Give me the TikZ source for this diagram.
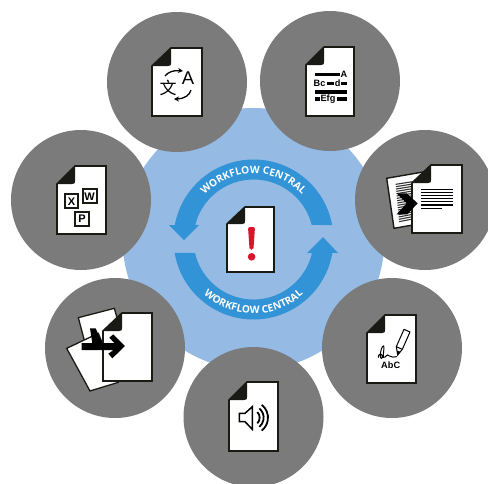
\documentclass[tikz,border=0pt]{standalone}
\usepackage{fontspec}
\setmainfont{Liberation Sans}
\newfontfamily\wfont{Open Sans}
\newfontfamily\cjkfont{Noto Sans CJK SC}
\usetikzlibrary{arrows.meta,decorations.text}
\definecolor{hubgray}{HTML}{7B7B7B}
\definecolor{paleblue}{HTML}{95BBE4}
\definecolor{ringblue}{HTML}{3293D6}
\definecolor{ink}{HTML}{1A1A14}
\definecolor{alertred}{HTML}{D9152C}
\tikzset{
  hub/.style={circle,fill=hubgray,minimum size=140pt,inner sep=0pt},
  paper/.style={fill=white,draw=ink,line width=1.7pt,line join=miter},
  inkbar/.style={fill=black},
  iconlabel/.style={inner sep=0pt,font=\bfseries\fontsize{9.2}{10}\selectfont},
  boxlabel/.style={inner sep=0pt,font=\bfseries\fontsize{11}{12}\selectfont},
  smallbox/.style={fill=white,draw=ink,line width=1.8pt}
}
\newcommand{\docpage}[6]{%
  \filldraw[paper] (#1,#6) -- (#5,#2) -- (#3,#2) -- (#3,#4) -- (#1,#4) -- cycle;
  \fill[ink] (#1,#6) -- (#5,#2) -- (#5,#6-3) .. controls (#5,#6-0.5) .. (#5-3,#6) -- cycle;
}
\newcommand{\ringfont}{\wfont\bfseries\fontsize{10.2}{12}\selectfont\color{white}}
\begin{document}
\begin{tikzpicture}[x=1pt,y=-1pt]
\useasboundingbox (0,0) rectangle (488,483);
\clip (0,0) rectangle (488,483);
\fill[white] (0,0) rectangle (488,483);
\node[circle,fill=paleblue,minimum size=262pt,inner sep=0pt] (central) at (253.5,239) {};
\node[hub] (translate) at (177,82) {};
\node[hub] (format) at (330,81) {};
\node[hub] (convert) at (425,200) {};
\node[hub] (sign) at (392,348) {};
\node[hub] (audio) at (253.5,417) {};
\node[hub] (merge) at (115,348) {};
\node[hub] (office) at (81,200) {};

% ring arrows
\begin{scope}[shift={(253.5,239.5)}]
\fill[ringblue] (-10.44:80) arc[start angle=-10.44,end angle=-169.56,radius=80]
  -- (-84.5,-14.5) -- (-69.5,0.5) -- (-54.5,-14.5) -- (-166:60)
  arc[start angle=-166,end angle=-14,radius=60] -- cycle;
\fill[ringblue] (170.3:80) arc[start angle=170.3,end angle=9.7,radius=80]
  -- (84.5,13.5) -- (69.5,-2.5) -- (53.5,13.5) -- (13:60)
  arc[start angle=13,end angle=167,radius=60] -- cycle;
\path[decorate,decoration={text along path,text align=center,
  text={|\ringfont|WORKFLOW CENTRAL}}]
  (-150:66) arc[start angle=-150,end angle=-30,radius=66];
\path[decorate,decoration={text along path,text align=center,
  text={|\ringfont|WORKFLOW CENTRAL}}]
  (150:74) arc[start angle=150,end angle=30,radius=74];
\end{scope}

% central document
\docpage{227}{207}{274}{272}{245}{224}
\fill[alertred,rounded corners=2pt] (248,227) -- (255,227) -- (253.4,250) -- (249.6,250) -- cycle;
\fill[alertred] (251.6,256.8) circle (3.8);

% translate
\docpage{152}{48}{202}{116}{171}{66}
\node[inner sep=0pt,font=\fontsize{18.5}{20}\selectfont] (letterA) at (188,78) {A};
\node[inner sep=0pt,font=\cjkfont\fontsize{17}{19}\selectfont] (letterwen) at (168,88) {文};
\draw[line width=1.3pt,-{Stealth[length=5pt,width=5pt]}] (165,76) .. controls (168,72) and (174,70) .. (183,71);
\draw[line width=1.3pt,-{Stealth[length=5pt,width=5pt]}] (191,90) .. controls (190,95) and (184,99) .. (174,99);

% format
\docpage{306}{47}{354}{116}{324}{65}
\fill[inkbar] (315,72.7) rectangle (340,76);
\fill[inkbar] (327.3,82) rectangle (334,85);
\fill[inkbar] (341.3,82) rectangle (347,85);
\fill[inkbar] (315,90) rectangle (347,93.7);
\fill[inkbar] (315,97.3) rectangle (320,100.7);
\fill[inkbar] (336.7,97.3) rectangle (347,100.7);
\node[iconlabel] (fa) at (344,74.5) {A};
\node[iconlabel] (fb) at (319.5,83.3) {Bc};
\node[iconlabel] (fd) at (337.6,83) {d};
\node[iconlabel] (fe) at (328,99.6) {Efg};

% convert
\filldraw[fill=white,draw=ink,line width=1.4pt] (386.7,178.3) -- (423,172) -- (430,222) -- (394,228.3) -- cycle;
\begin{scope}[shift={(370,150)},scale=0.3333]
  \foreach \yy in {100,107,...,212} {
    \draw[black!80,line width=1.1pt] (68+0.09*\yy,\yy+3) -- (128,\yy-5);
  }
\end{scope}
\docpage{412}{165}{462}{233}{431}{183}
\begin{scope}[shift={(370,150)},scale=0.3333]
  \foreach \yy in {118,127,136,146,155,165} {
    \draw[black,line width=1.1pt] (153,\yy) -- (248,\yy);
  }
  \draw[black,line width=1.1pt] (153,175) -- (215,175);
  \fill[black] (80,130) -- (110,130) -- (143,160) -- (112,193) -- (80,193) -- (110,160) -- cycle;
\end{scope}

% sign
\docpage{367}{315}{416}{383}{385}{333}
\begin{scope}[shift={(350,300)},scale=0.3333]
  \draw[black,line width=1pt,line join=round] (162,88) -- (180,96) -- (157,148) -- (139,140) -- cycle;
  \draw[black,line width=1pt] (139,140) -- (143,165) -- (157,148);
  \fill[black] (140.5,152) -- (143,165) -- (151,155) -- cycle;
  \draw[black,line width=1pt,line cap=round]
    (85,172) .. controls (85,160) and (95,160) .. (97,168)
    .. controls (98,178) and (90,178) .. (91,165)
    .. controls (92,150) and (96,138) .. (101,138)
    .. controls (104,145) and (98,165) .. (100,172)
    .. controls (108,175) and (110,158) .. (118,168)
    .. controls (124,174) and (132,170) .. (140,170);
\end{scope}
\node[iconlabel] (abc) at (390.7,365.7) {AbC};

% audio
\docpage{229}{382}{278}{451}{247}{400}
\begin{scope}[shift={(215,370)},scale=0.3333]
  \draw[black,line width=1.5pt,line join=miter] (73,130) -- (90,130) -- (112,110) -- (112,178) -- (90,155) -- (73,155) -- cycle;
  \draw[black,line width=1.8pt] (-45:24) ++(110,143) arc[start angle=-45,end angle=45,radius=24];
  \draw[black,line width=1.8pt] (-50:36) ++(110,143) arc[start angle=-50,end angle=50,radius=36];
  \draw[black,line width=1.8pt] (-52:49) ++(110,143) arc[start angle=-52,end angle=52,radius=49];
\end{scope}

% merge
\begin{scope}[shift={(55,295)},scale=0.3333]
  \filldraw[fill=white,draw=ink,line width=1.3pt] (70,68) -- (178,40) -- (215,170) -- (105,200) -- cycle;
  \filldraw[fill=white,draw=ink,line width=1.3pt] (35,160) -- (130,115) -- (190,262) -- (105,288) -- cycle;
\end{scope}
\docpage{103}{313}{152}{381}{122}{331}
\begin{scope}[shift={(55,295)},scale=0.3333]
  \fill[black] (105,100) -- (122,100) -- (142,145) -- (112,145) -- cycle;
  \fill[black] (80,144) -- (178,144) -- (163,128) -- (175,118) -- (210,153) -- (172,190) -- (160,176) -- (176,165) -- (80,165) -- cycle;
\end{scope}

% office
\docpage{57}{166}{106}{234}{75}{184}
\begin{scope}[shift={(40,155)},scale=0.3333]
  \filldraw[smallbox] (74,118) rectangle (115,160);
  \filldraw[smallbox] (128,103) rectangle (170,145);
  \filldraw[smallbox] (105,171) rectangle (148,213);
  \node[boxlabel] (bx) at (94.5,139) {X};
  \node[boxlabel] (bw) at (149,124) {W};
  \node[boxlabel] (bp) at (126.5,192) {P};
\end{scope}
\end{tikzpicture}
\end{document}
